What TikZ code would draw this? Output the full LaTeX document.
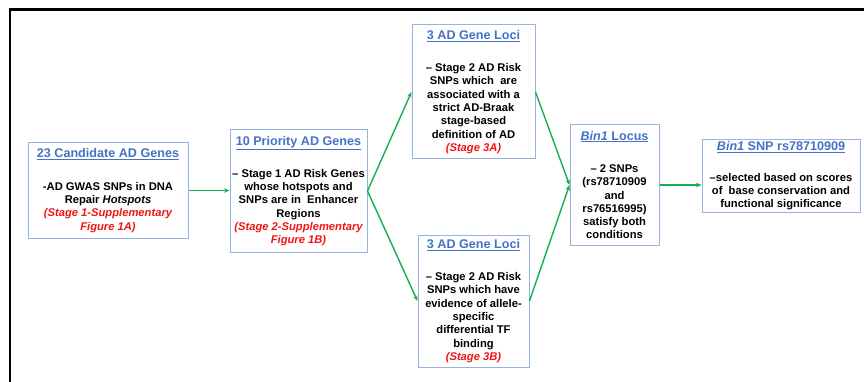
\documentclass[tikz,border=0pt]{standalone}
\usepackage{fontspec}
\setmainfont{Liberation Sans}
\usetikzlibrary{arrows.meta}
\definecolor{boxblue}{RGB}{150,180,225}
\definecolor{titleblue}{RGB}{68,114,196}
\definecolor{arrowgreen}{RGB}{20,175,80}
\definecolor{stagered}{RGB}{240,20,20}
\newcommand{\ttl}[1]{{\fontsize{12.6}{15}\selectfont\color{titleblue}\underline{#1}}}
\newcommand{\stg}[1]{{\color{stagered}\itshape #1}}
\tikzset{
  box/.style={draw=boxblue, line width=1pt, inner sep=0pt, align=center,
    font=\fontsize{11.2}{13.3}\selectfont\bfseries},
  flow/.style={draw=arrowgreen, line width=1.4pt, -{Stealth[length=5.5pt,width=4.5pt]}},
  frame/.style={line width=2.6pt, black}
}
\begin{document}
\begin{tikzpicture}[x=1pt,y=-1pt]
\useasboundingbox (0,0) rectangle (864,382);
\draw[frame] (10,382) -- (10,9.5) -- (864,9.5);

\node[box, minimum width=160pt, minimum height=95pt] (b1) at (108,190.5)
  {\ttl{23 Candidate AD Genes}\\[19pt]
   -AD GWAS SNPs in DNA\\ Repair \textit{Hotspots}\\
   \stg{(Stage 1-Supplementary}\\ \stg{Figure 1A)}};

\node[box, minimum width=137pt, minimum height=122pt] (b2) at (298.5,191)
  {\ttl{10 Priority AD Genes}\\[19pt]
   -- Stage 1 AD Risk Genes\\ whose hotspots and\\ SNPs are in\ \ Enhancer\\ Regions\\
   \stg{(Stage 2-Supplementary}\\ \stg{Figure 1B)}};

\node[box, minimum width=123pt, minimum height=134pt] (b3a) at (473.5,92)
  {\ttl{3 AD Gene Loci}\\[19pt]
   -- Stage 2 AD Risk\\ SNPs which\ \ are\\ associated with a\\ strict AD-Braak\\ stage-based\\ definition of AD\\
   \stg{(Stage 3A)}};

\node[box, minimum width=111pt, minimum height=132pt] (b3b) at (473.5,301)
  {\ttl{3 AD Gene Loci}\\[19pt]
   -- Stage 2 AD Risk\\ SNPs which have\\ evidence of allele-\\ specific\\ differential TF\\ binding\\
   \stg{(Stage 3B)}};

\node[box, minimum width=89pt, minimum height=120pt] (bin) at (614.5,185)
  {\ttl{\textit{Bin1} Locus}\\[19pt]
   -- 2 SNPs\\ (rs78710909\\ and\\ rs76516995)\\ satisfy both\\ conditions};

\node[box, minimum width=158pt, minimum height=72pt] (fin) at (781,176)
  {\ttl{\textit{Bin1} SNP rs78710909}\\[17pt]
   --selected based on scores\\ of\ \ base conservation and\\ functional significance};

\draw[flow] (b1.east) -- (b1.east -| b2.west);
\draw[flow] (b2.east) -- (b3a.west);
\draw[flow] (b2.east) -- (b3b.west);
\draw[flow] (b3a.east) -- (bin.west);
\draw[flow] (b3b.east) -- (bin.west);
\draw[flow] (bin.east) -- (bin.east -| fin.west);
\end{tikzpicture}
\end{document}
